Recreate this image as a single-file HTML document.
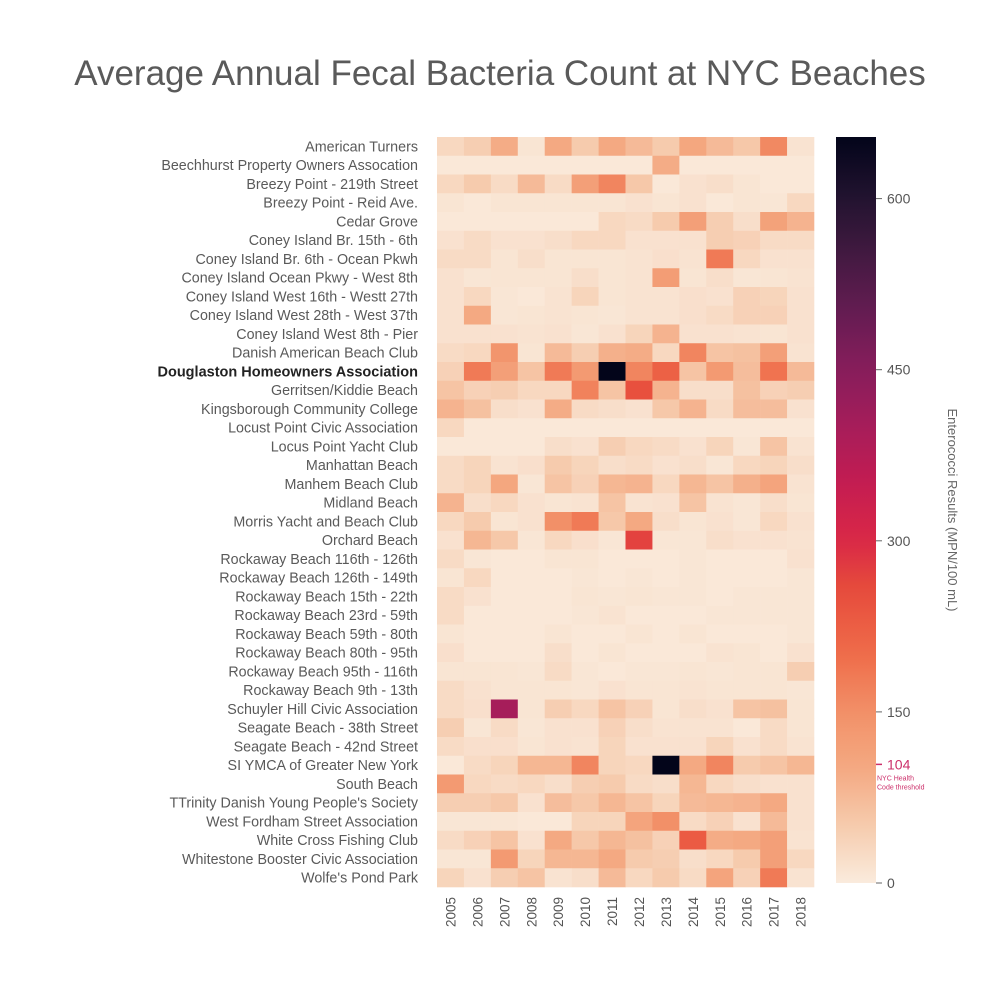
<!DOCTYPE html>
<html><head><meta charset="utf-8">
<style>
body{margin:0;background:#fff;width:1000px;height:990px;overflow:hidden;font-family:"Liberation Sans",sans-serif;}
svg text{font-family:"Liberation Sans",sans-serif;}
</style></head>
<body>
<svg id="chart" width="1000" height="990" xmlns="http://www.w3.org/2000/svg">
<text x="500" y="85" text-anchor="middle" font-size="35" fill="#5a5a5a" font-weight="300">Average Annual Fecal Bacteria Count at NYC Beaches</text>
<g id="cells"></g>
<g id="ylabels"></g>
<g id="xlabels"></g>
<defs><linearGradient id="cbgrad" x1="0" y1="1" x2="0" y2="0"></linearGradient></defs>
<rect x="836" y="137" width="40" height="746" fill="url(#cbgrad)"/>
<g id="cbticks"></g>
<text transform="translate(948,510) rotate(90)" text-anchor="middle" font-size="13" fill="#666">Enterococci Results (MPN/100 mL)</text>
</svg>
<script>
const beaches=["American Turners","Beechhurst Property Owners Assocation","Breezy Point - 219th Street","Breezy Point - Reid Ave.","Cedar Grove","Coney Island Br. 15th - 6th","Coney Island Br. 6th - Ocean Pkwh","Coney Island Ocean Pkwy - West 8th","Coney Island West 16th - Westt 27th","Coney Island West 28th - West 37th","Coney Island West 8th - Pier","Danish American Beach Club","Douglaston Homeowners Association","Gerritsen/Kiddie Beach","Kingsborough Community College","Locust Point Civic Association","Locus Point Yacht Club","Manhattan Beach","Manhem Beach Club","Midland Beach","Morris Yacht and Beach Club","Orchard Beach","Rockaway Beach 116th - 126th","Rockaway Beach 126th - 149th","Rockaway Beach 15th - 22th","Rockaway Beach 23rd - 59th","Rockaway Beach 59th - 80th","Rockaway Beach 80th - 95th","Rockaway Beach 95th - 116th","Rockaway Beach 9th - 13th","Schuyler Hill Civic Association","Seagate Beach - 38th Street","Seagate Beach - 42nd Street","SI YMCA of Greater New York","South Beach","TTrinity Danish Young People's Society","West Fordham Street Association","White Cross Fishing Club","Whitestone Booster Civic Association","Wolfe's Pond Park"];
const years=["2005","2006","2007","2008","2009","2010","2011","2012","2013","2014","2015","2016","2017","2018"];
const values=[
[30,45,95,10,100,50,100,75,50,105,75,55,160,12],
[5,5,5,5,5,5,5,5,95,5,5,5,5,5],
[30,50,25,75,25,120,165,55,5,15,20,10,5,5],
[10,5,10,10,10,10,10,15,10,15,5,10,8,30],
[5,5,5,5,5,5,30,25,50,120,45,20,115,85],
[15,25,15,15,20,30,30,15,15,15,45,40,25,25],
[25,25,10,20,10,10,10,12,18,12,180,30,15,15],
[15,8,10,10,10,20,10,12,125,10,20,8,10,12],
[15,30,8,5,12,35,10,12,12,18,15,40,35,15],
[15,100,8,10,12,10,8,12,12,18,25,40,40,15],
[15,15,15,12,15,8,15,35,85,15,15,12,10,15],
[25,30,140,10,75,45,90,95,30,165,60,65,120,12],
[40,180,120,60,180,130,654,165,220,60,130,70,190,75],
[60,40,45,30,30,170,60,250,85,20,20,65,40,45],
[85,65,20,15,95,25,20,15,55,85,25,70,70,15],
[30,5,5,5,5,5,5,5,5,5,5,5,5,5],
[5,5,5,5,20,15,45,30,25,15,35,8,60,12],
[25,35,12,18,50,35,20,25,15,20,8,30,35,20],
[25,35,105,8,60,40,80,85,30,80,60,90,110,12],
[85,20,30,15,10,12,60,12,15,60,12,8,20,10],
[30,50,10,15,150,180,55,100,20,10,15,8,30,15],
[15,80,55,8,30,18,8,270,8,8,20,15,15,12],
[25,8,5,5,10,10,5,5,5,8,5,5,5,15],
[10,30,5,5,5,8,5,8,5,8,5,5,5,8],
[25,15,5,5,5,10,8,10,8,8,5,8,8,8],
[25,5,5,5,5,8,12,5,5,5,8,8,8,8],
[10,5,5,5,10,5,5,10,5,10,5,5,5,8],
[18,5,5,5,20,5,10,5,5,5,12,10,5,15],
[10,10,10,8,25,8,5,8,8,10,8,10,10,45],
[25,15,10,10,10,8,15,10,10,12,10,10,10,8],
[25,18,400,10,45,30,60,40,10,20,15,60,65,10],
[45,8,25,8,15,15,40,20,12,12,12,5,25,10],
[25,18,18,10,15,12,35,15,15,15,35,15,25,12],
[5,25,35,80,80,165,35,30,654,100,165,50,60,80],
[130,30,25,30,20,45,50,25,20,80,30,20,15,15],
[45,45,55,15,70,55,80,60,35,75,80,85,100,15],
[8,8,8,5,5,35,35,110,150,25,40,15,75,15],
[25,40,60,15,100,55,80,65,40,230,95,100,120,12],
[8,8,130,35,80,80,100,50,45,20,30,50,120,30],
[35,15,45,60,12,20,75,30,50,25,110,40,180,12]
];
const cbTicks=[0,150,300,450,600];
const threshold=104;
const vmax=654;
const stopV=[0,50,100,150,200,260,300,350,400,450,500,550,600,654];
const stopC=["#faebdd","#f6cbad","#f4a982","#f29068","#ef6c4a","#e64a3c","#d92847","#c41c51","#a61d5a","#871d5b","#651c52","#431a41","#221330","#03051a"];
const NS="http://www.w3.org/2000/svg";
const X0=437,X1=814,Y0=137,Y1=887,CB0=883,CB1=137;
const cw=(X1-X0)/years.length, ch=(Y1-Y0)/beaches.length;
function xScale(i){return X0+i*cw;}
function yScale(i){return Y0+i*ch;}
function cbScale(v){return CB0-(v/vmax)*(CB0-CB1);}
function hex(c){return [1,3,5].map(k=>parseInt(c.substr(k,2),16));}
function color(v){
  v=Math.max(0,Math.min(vmax,v));
  for(let k=0;k<stopV.length-1;k++){
    if(v<=stopV[k+1]){const t=(v-stopV[k])/(stopV[k+1]-stopV[k]);const a=hex(stopC[k]),b=hex(stopC[k+1]);
      return "rgb("+a.map((x,j)=>Math.round(x+(b[j]-x)*t)).join(",")+")";}
  }
  return stopC[stopC.length-1];
}
function mk(tag,attrs,parent){const e=document.createElementNS(NS,tag);for(const k in attrs)e.setAttribute(k,attrs[k]);parent.appendChild(e);return e;}
const cells=document.getElementById('cells');
values.forEach((row,r)=>row.forEach((v,c)=>{
  const el=mk('rect',{x:xScale(c),y:yScale(r),width:cw+0.3,height:ch+0.3,fill:color(v)},cells);
  
  
}));
const yl=document.getElementById('ylabels');
beaches.forEach((b,r)=>{
  const bold=b.startsWith("Douglaston");
  const el=mk('text',{x:418,y:yScale(r)+ch/2+5,'text-anchor':'end','font-size':bold?'14.5':'14.3',fill:bold?'#222':'#5a5a5a'},yl);
  if(bold)el.setAttribute('font-weight','bold');
  el.textContent=b;
  
  
});
const xl=document.getElementById('xlabels');
years.forEach((y,c)=>{
  const cx=xScale(c)+cw/2+5;
  const el=mk('text',{transform:'translate('+cx+',897) rotate(-90)','text-anchor':'end','font-size':'13.5',fill:'#555'},xl);
  el.textContent=y;
  
  
});
const g=document.getElementById('cbgrad');
for(let k=0;k<=40;k++){const v=k/40*vmax;mk('stop',{offset:(k/40),'stop-color':color(v)},g);}
const cbt=document.getElementById('cbticks');
cbTicks.forEach(v=>{
  const y=cbScale(v);
  const l=mk('line',{x1:876,x2:882,y1:y,y2:y,stroke:'#666','stroke-width':1},cbt);
  
  
  const t=mk('text',{x:887,y:y+5,'font-size':'14',fill:'#555'},cbt);
  t.textContent=v;
  
  
});
const ty=cbScale(threshold);
const tl=mk('line',{x1:876,x2:882,y1:ty,y2:ty,stroke:'#cc2f6a','stroke-width':1.5},cbt);


const tt=mk('text',{x:887,y:ty+5,'font-size':'14',fill:'#cc2f6a'},cbt);
tt.textContent=threshold;


const n1=mk('text',{x:877,y:ty+16,'font-size':'7',fill:'#cc2f6a'},cbt);
n1.textContent='NYC Health';


const n2=mk('text',{x:877,y:ty+25,'font-size':'7',fill:'#cc2f6a'},cbt);
n2.textContent='Code threshold';


</script>
</body></html>
